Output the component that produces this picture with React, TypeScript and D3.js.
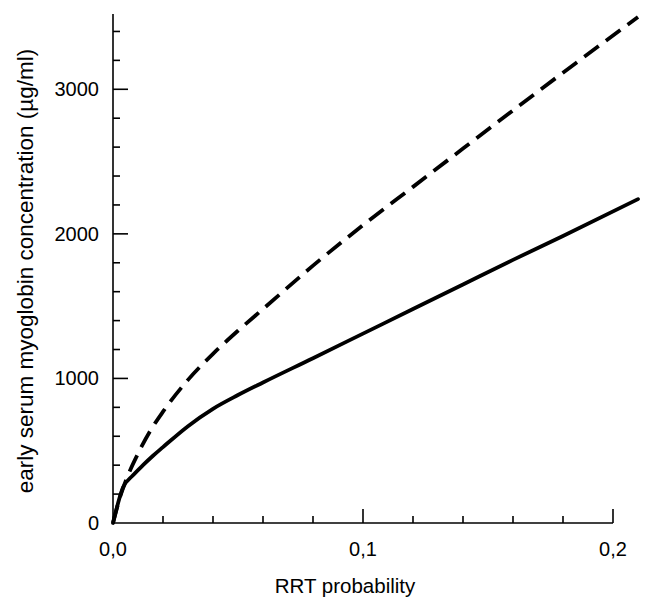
import React, { useEffect, useRef } from "react";
import * as d3 from "d3";

// RRT probability vs early serum myoglobin (µg/ml)
const solidX = [0, 0.004, 0.008, 0.012, 0.016, 0.02, 0.03, 0.04, 0.05, 0.06, 0.08, 0.1, 0.12, 0.14, 0.16, 0.18, 0.21];
const solidY = [0, 245, 330, 400, 465, 525, 670, 790, 885, 972, 1140, 1310, 1480, 1650, 1820, 1985, 2240];
const dashedX = [0, 0.003, 0.006, 0.01, 0.015, 0.02, 0.03, 0.04, 0.05, 0.06, 0.08, 0.1, 0.12, 0.14, 0.17, 0.21];
const dashedY = [0, 190, 330, 480, 640, 770, 990, 1170, 1330, 1480, 1780, 2060, 2325, 2590, 2985, 3500];

const xMajor = [0, 0.1, 0.2];
const xMinor = [0.02, 0.04, 0.06, 0.08, 0.12, 0.14, 0.16, 0.18];
const yMajor = [0, 1000, 2000, 3000];
const yMinor = [200, 400, 600, 800, 1200, 1400, 1600, 1800, 2200, 2400, 2600, 2800, 3200, 3400];

const xLabels = ["0,0", "0,1", "0,2"];

const App = () => {
  const svgRef = useRef<SVGSVGElement>(null);

  useEffect(() => {
    const width = 658;
    const height = 600;
    const left = 113;
    const bottom = 523;

    const x = d3.scaleLinear().domain([0, 0.2]).range([left, 613]);
    const y = d3.scaleLinear().domain([0, 3500]).range([bottom, 17]);

    const svg = d3
      .select(svgRef.current)
      .attr("width", width)
      .attr("height", height)
      .style("font-family", "'Liberation Sans', Arial, sans-serif");

    svg.selectAll("*").remove();

    const g = svg.append("g");

    // axes lines
    g.append("line")
      .attr("x1", left).attr("x2", left)
      .attr("y1", y(3500) - 3).attr("y2", bottom)
      .attr("stroke", "#000").attr("stroke-width", 1.6);
    g.append("line")
      .attr("x1", left).attr("x2", x(0.2))
      .attr("y1", bottom).attr("y2", bottom)
      .attr("stroke", "#000").attr("stroke-width", 1.6);

    // y ticks
    g.selectAll(".ymaj").data(yMajor.slice(1)).join("line")
      .attr("x1", left).attr("x2", left + 15)
      .attr("y1", (d) => y(d)).attr("y2", (d) => y(d))
      .attr("stroke", "#000").attr("stroke-width", 1.6);
    g.selectAll(".ymin").data(yMinor).join("line")
      .attr("x1", left).attr("x2", left + 7)
      .attr("y1", (d) => y(d)).attr("y2", (d) => y(d))
      .attr("stroke", "#000").attr("stroke-width", 1.6);

    // x ticks
    g.selectAll(".xmaj").data(xMajor.slice(1)).join("line")
      .attr("x1", (d) => x(d)).attr("x2", (d) => x(d))
      .attr("y1", bottom).attr("y2", bottom - 14)
      .attr("stroke", "#000").attr("stroke-width", 1.6);
    g.selectAll(".xmin").data(xMinor).join("line")
      .attr("x1", (d) => x(d)).attr("x2", (d) => x(d))
      .attr("y1", bottom).attr("y2", bottom - 7)
      .attr("stroke", "#000").attr("stroke-width", 1.6);

    // tick labels
    g.selectAll(".ylab").data(yMajor).join("text")
      .attr("x", 99)
      .attr("y", (d) => y(d) + 7)
      .attr("text-anchor", "end")
      .style("font-size", "20px")
      .text((d) => String(d));

    g.selectAll(".xlab").data(xMajor).join("text")
      .attr("x", (d) => x(d))
      .attr("y", 556)
      .attr("text-anchor", "middle")
      .style("font-size", "20px")
      .text((d, i) => xLabels[i]);

    // axis titles
    g.append("text")
      .attr("x", 345)
      .attr("y", 593)
      .attr("text-anchor", "middle")
      .style("font-size", "20.5px")
      .text("RRT probability");

    g.append("text")
      .attr("transform", "translate(33,271) rotate(-90)")
      .attr("text-anchor", "middle")
      .style("font-size", "22.5px")
      .text("early serum myoglobin concentration (µg/ml)");

    const line = d3
      .line<number>()
      .x((d) => x(d))
      .curve(d3.curveMonotoneX);

    g.append("path")
      .attr("d", line.y((d, i) => y(solidY[i]))(solidX))
      .attr("fill", "none")
      .attr("stroke", "#000")
      .attr("stroke-width", 3.8)
      .attr("stroke-linecap", "round");

    g.append("path")
      .attr("d", line.y((d, i) => y(dashedY[i]))(dashedX))
      .attr("fill", "none")
      .attr("stroke", "#000")
      .attr("stroke-width", 3.8)
      .attr("stroke-dasharray", "18,9");
  }, []);

  return <svg ref={svgRef} style={{ position: "absolute", left: 0, top: 0 }}></svg>;
};

export default App;
